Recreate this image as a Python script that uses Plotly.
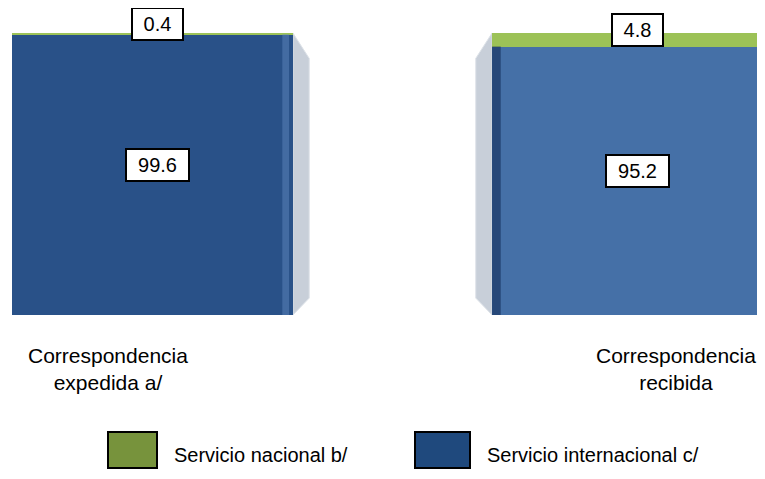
import plotly.graph_objects as go

# datos
categorias = ["Correspondencia<br>expedida a/", "Correspondencia<br>recibida"]
series = ["Servicio nacional b/", "Servicio internacional c/"]
nacional = [0.4, 4.8]
internacional = [99.6, 95.2]

x_pos = [0, 1]
ancho = 0.585
azul_barras = ["#295188", "#4570a7"]
verde_barra = "#9cc257"
colores_leyenda = ["#77933c", "#1f497d"]
fuente = "Liberation Sans, Arial, sans-serif"

fig = go.Figure()
fig.add_trace(go.Bar(x=x_pos, y=internacional, width=ancho, name=series[1],
                     marker=dict(color=azul_barras, line=dict(width=0)),
                     hoverinfo="y"))
fig.add_trace(go.Bar(x=x_pos, y=nacional, width=ancho, name=series[0],
                     marker=dict(color=verde_barra, line=dict(width=0)),
                     hoverinfo="y"))

# caras laterales (efecto 3d), calculadas desde la posicion de cada barra
d = 0.034
lados = [1, -1]  # primera barra: cara a la derecha, segunda: a la izquierda
for i, xi in enumerate(x_pos):
    tope = internacional[i] + nacional[i]
    borde = xi + lados[i] * ancho / 2
    fuera = borde + lados[i] * d
    fig.add_shape(type="path", xref="x", yref="y", layer="below",
                  path=f"M {borde} {tope} L {fuera} {tope - 9} L {fuera} 6 L {borde} 0 Z",
                  fillcolor="#c8cfd9", line=dict(color="#dde2e8", width=1))

# brillo / sombra vertical en el borde de cada barra
fig.add_shape(type="rect", xref="x", yref="y", layer="above",
              x0=x_pos[0] + ancho / 2 - 0.022, x1=x_pos[0] + ancho / 2 - 0.008,
              y0=0, y1=internacional[0], fillcolor="rgba(100,140,195,0.45)", line_width=0)
fig.add_shape(type="rect", xref="x", yref="y", layer="above",
              x0=x_pos[1] - ancho / 2, x1=x_pos[1] - ancho / 2 + 0.018,
              y0=0, y1=internacional[1], fillcolor="rgba(20,45,90,0.6)", line_width=0)

# etiquetas de valores
for i, xi in enumerate(x_pos):
    for valor, centro in [(nacional[i], internacional[i] + nacional[i] / 2),
                          (internacional[i], internacional[i] / 2)]:
        texto = f"{valor:.1f}"
        fig.add_annotation(x=xi, y=centro, xref="x", yref="y", text=texto,
                           showarrow=False, xshift=5, yshift=9.5,
                           width=47 if len(texto) == 3 else 59, height=28,
                           bgcolor="white", bordercolor="black", borderwidth=2,
                           borderpad=1, font=dict(family=fuente, size=20, color="black"))

# etiquetas de categorias
desplaz = [-44, 43]
for i, xi in enumerate(x_pos):
    fig.add_annotation(x=xi, y=0, xref="x", yref="y", text=categorias[i],
                       showarrow=False, yanchor="top", yshift=-27, xshift=desplaz[i],
                       align="center", font=dict(family=fuente, size=21, color="black"))

# leyenda manual (coordenadas de ventana; la pagina tiene 8 px de margen)
cuadros = [(108, 157), (415, 470)]
for j, (a, b) in enumerate(cuadros):
    fig.add_shape(type="rect", xref="paper", yref="paper",
                  x0=(a - 8) / 765, x1=(b - 8) / 765,
                  y0=(315 - 432) / 282, y1=(315 - 468) / 282,
                  fillcolor=colores_leyenda[j], line=dict(color="black", width=2))
    fig.add_annotation(x=(b + 15 - 8) / 765, y=(315 - 455) / 282, xref="paper", yref="paper",
                       text=series[j], showarrow=False, xanchor="left", yanchor="middle",
                       font=dict(family=fuente, size=20, color="black"))

fig.update_layout(
    width=765, height=479,
    barmode="stack",
    showlegend=False,
    plot_bgcolor="white", paper_bgcolor="white",
    margin=dict(l=0, r=0, t=25, b=172),
    xaxis=dict(range=[-0.3010, 1.2927], visible=False),
    yaxis=dict(range=[0, 100], visible=False),
)

fig.write_html("out.html")
